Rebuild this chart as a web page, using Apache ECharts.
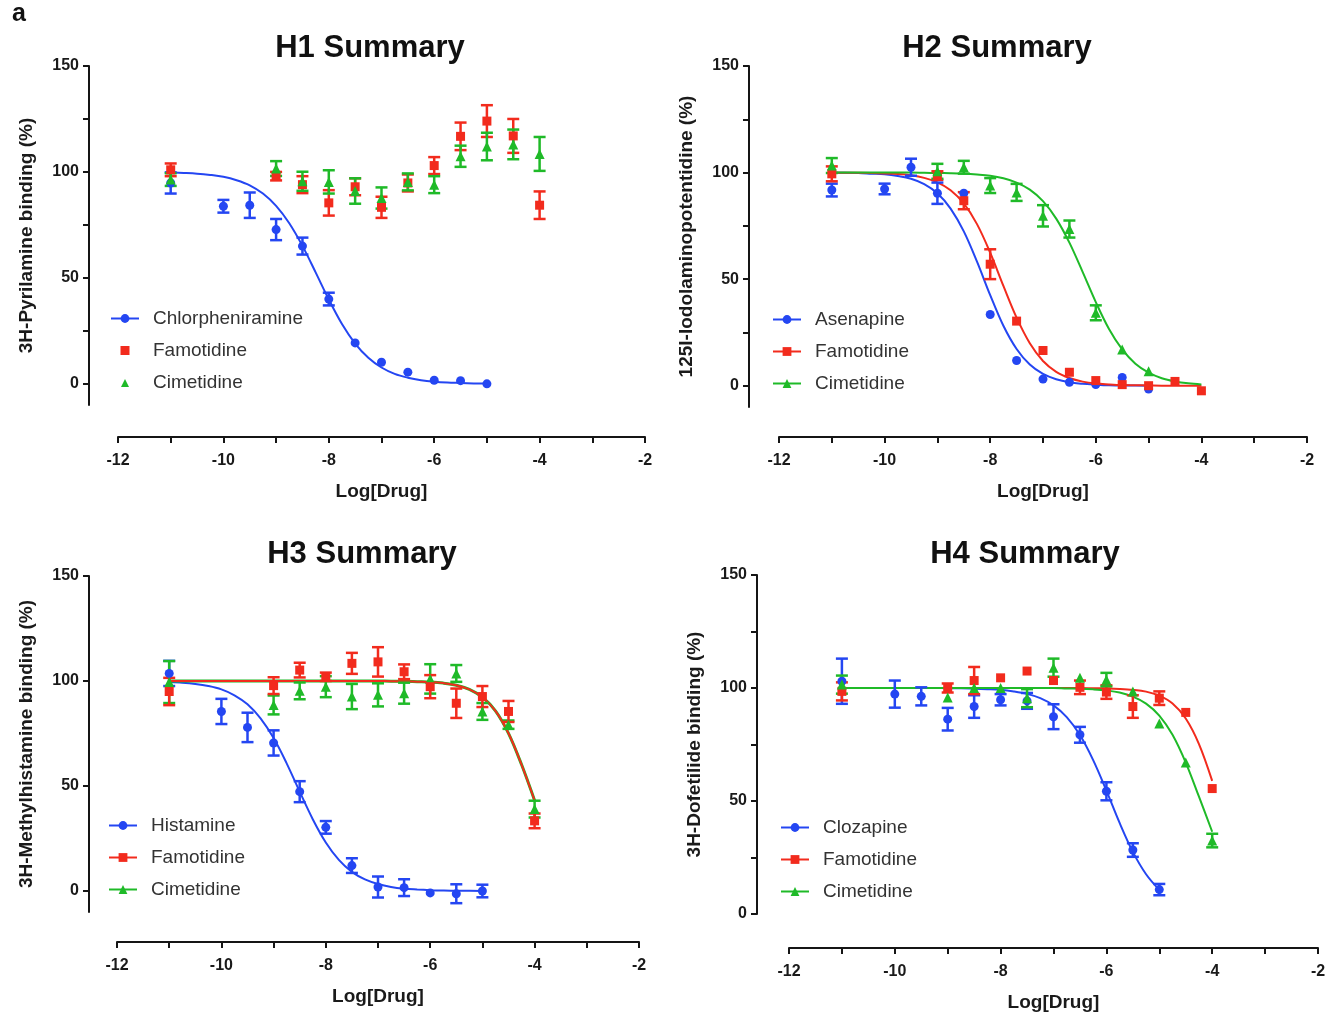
<!DOCTYPE html>
<html>
<head>
<meta charset="utf-8">
<script src="https://cdn.jsdelivr.net/npm/echarts@6.0.0/dist/echarts.min.js"></script>
<style>
  html, body { margin: 0; padding: 0; background: #fff; }
  .panel { position: absolute; left: 0; top: 0; width: 1340px; height: 1015px; }
</style>
</head>
<body>
<div id="h1" class="panel"></div>
<div id="h2" class="panel"></div>
<div id="h3" class="panel"></div>
<div id="h4" class="panel"></div>
<script>
// ---- axis ticks ----
const xLabels = [-12, -10, -8, -6, -4, -2]
const yLabels = [0, 50, 100, 150]
const yMinorTicks = [0, 25, 50, 75, 100, 125, 150]

// x grid the fitted curves were read at (log M)
const curveX = [-11, -10.75, -10.5, -10.25, -10, -9.75, -9.5, -9.25, -9, -8.75, -8.5, -8.25, -8, -7.75, -7.5, -7.25, -7, -6.75, -6.5, -6.25, -6, -5.75, -5.5, -5.25, -5, -4.75, -4.5, -4.25, -4]

// ---- H1 ----
const h1ChlorX = [-11, -10, -9.5, -9, -8.5, -8, -7.5, -7, -6.5, -6, -5.5, -5]
const h1Chlor = [94.8, 83.8, 84.3, 72.8, 65, 40, 19.3, 10.2, 5.5, 1.7, 1.5, 0]
const h1ChlorErr = [5, 3, 6, 5, 4, 3, 0, 0, 0, 0, 0, 0]
const h1ChlorCurve = [99.7, 99.5, 99.2, 98.6, 97.7, 96.1, 93.7, 89.8, 84.0, 75.8, 65.1, 52.6, 39.8, 28.2, 19.0, 12.3, 7.7, 4.7, 2.9, 1.7, 1.0, 0.6, 0.4, 0.2, 0.1]
const h1H2X = [-11, -9, -8.5, -8, -7.5, -7, -6.5, -6, -5.5, -5, -4.5, -4]
const h1Famo = [101, 98, 94, 85.4, 93, 83.3, 94.8, 103, 116.8, 124, 117, 84.3]
const h1FamoErr = [3, 2, 4, 6, 4, 5, 4, 4, 6.5, 7.5, 8, 6.5]
const h1Cime = [96.4, 101.6, 95.6, 95.3, 91, 87.7, 95.3, 94, 107.4, 112, 113, 108.5]
const h1CimeErr = [3, 3.5, 4.5, 5.5, 6, 5, 4, 4, 5, 6.5, 7, 8]

// ---- H2 ----
const h2AsenX = [-11, -10, -9.5, -9, -8.5, -8, -7.5, -7, -6.5, -6, -5.5, -5]
const h2Asen = [91.8, 92.3, 102.5, 90.3, 90.3, 33.4, 11.8, 3.1, 1.6, 0.5, 3.9, -1.6]
const h2AsenErr = [3, 2.5, 4, 5, 0, 0, 0, 0, 0, 0, 0, 0]
const h2AsenCurve = [99.9, 99.9, 99.8, 99.5, 99.2, 98.4, 97.1, 94.6, 90.3, 83.1, 72.4, 58.2, 42.5, 28.1, 17.2, 9.9, 5.5, 3.0, 1.6, 0.9, 0.5, 0.2, 0.1, 0.1, 0.0]
const h2FamoX = [-11, -9, -8.5, -8, -7.5, -7, -6.5, -6, -5.5, -5, -4.5, -4]
const h2Famo = [99.4, 98.6, 86.8, 57, 30.3, 16.5, 6.3, 2.4, 0.5, 0, 2, -2.4]
const h2FamoErr = [3.5, 2, 4, 7, 0, 0, 0, 0, 0, 0, 0, 0]
const h2FamoCurve = [100, 99.9, 99.9, 99.8, 99.6, 99.3, 98.7, 97.5, 95.4, 91.7, 85.5, 75.8, 62.4, 46.8, 31.9, 19.9, 11.6, 6.5, 3.6, 1.9, 1.0, 0.6, 0.3, 0.2, 0.1, 0, 0, 0, 0]
const h2CimeX = [-11, -9, -8.5, -8, -7.5, -7, -6.5, -6, -5.5, -5]
const h2Cime = [103.3, 100.6, 102.5, 93.9, 90.7, 79.7, 73.5, 34.2, 17, 6.8]
const h2CimeErr = [3.5, 3.5, 3, 3.5, 4, 5, 4, 3.5, 0, 0]
const h2CimeCurve = [100, 100, 100, 100, 100, 100, 100, 99.9, 99.8, 99.7, 99.5, 99.1, 98.5, 97.3, 95.3, 92.0, 86.6, 78.4, 67.1, 53.4, 39.2, 26.6, 17.0, 10.3, 6.1, 3.5, 2.0, 1.1, 0.6]

// ---- H3 ----
const h3HistX = [-11, -10, -9.5, -9, -8.5, -8, -7.5, -7, -6.5, -6, -5.5, -5]
const h3Hist = [103.6, 85.5, 77.9, 70.5, 47.3, 30.3, 12.1, 1.9, 1.6, -0.9, -1.3, 0]
const h3HistErr = [6, 6, 7, 6, 5, 3, 3.5, 5, 4, 0, 4.5, 3]
const h3HistCurve = [99.5, 99.2, 98.6, 97.6, 96.0, 93.2, 88.9, 82.2, 72.8, 60.8, 47.3, 34.2, 23.1, 14.8, 9.1, 5.5, 3.3, 1.9, 1.1, 0.7, 0.4, 0.2, 0.1, 0.1, 0.0]
const h3H2X = [-11, -9, -8.5, -8, -7.5, -7, -6.5, -6, -5.5, -5, -4.5, -4]
const h3Famo = [95, 97.8, 105.2, 102, 108.4, 109.1, 104.4, 97.3, 89.4, 92.6, 85.5, 33.4]
const h3FamoErr = [6.5, 4, 3.5, 2, 5, 7, 3.5, 5.5, 7, 5, 5, 3.5]
const h3Cime = [99.5, 88.6, 95.3, 97.3, 92.6, 93.4, 94.2, 101, 103.6, 85.5, 79.2, 39]
const h3CimeErr = [10, 4.5, 4, 5, 6, 5.5, 5, 7, 4, 4, 2, 4]
const h3H2Curve = [100, 100, 100, 100, 100, 100, 100, 100, 100, 100, 100, 100, 100, 100, 100, 100, 100, 99.9, 99.9, 99.7, 99.5, 99.0, 98.0, 96.0, 92.3, 85.8, 75.1, 60.2, 43.1]

// ---- H4 ----
const h4ClozX = [-11, -10, -9.5, -9, -8.5, -8, -7.5, -7, -6.5, -6, -5.5, -5]
const h4Cloz = [103, 97.3, 96.3, 86.2, 91.8, 94.8, 94.3, 87.3, 79.3, 54.3, 28.3, 10.8]
const h4ClozErr = [10, 6, 4, 5, 5, 2.5, 3.5, 5.5, 3.5, 4, 3, 2.5]
const h4ClozCurve = [100, 100, 100, 100, 100, 100, 100, 100, 99.9, 99.9, 99.7, 99.5, 99.2, 98.5, 97.4, 95.5, 92.3, 87.1, 79.2, 68.1, 54.6, 40.3, 27.5, 17.6, 10.7]
const h4H2X = [-11, -9, -8.5, -8, -7.5, -7, -6.5, -6, -5.5, -5, -4.5, -4]
const h4Famo = [98.5, 100, 103.3, 104.5, 107.5, 103.3, 100.3, 98.2, 91.8, 95.5, 89.2, 55.5]
const h4FamoErr = [4, 2, 6, 0, 0, 0, 3, 3, 5, 3, 0, 0]
const h4FamoCurve = [100, 100, 100, 100, 100, 100, 100, 100, 100, 100, 100, 100, 100, 100, 100, 100, 100, 100, 100, 99.9, 99.8, 99.6, 99.2, 98.4, 96.6, 93.1, 86.5, 75.2, 58.9]
const h4Cime = [101.5, 95.8, 100, 100, 95.5, 109, 104.5, 103.7, 98.5, 84.3, 67, 32.5]
const h4CimeErr = [4, 0, 0, 0, 4, 4, 0, 3, 0, 0, 0, 3]
const h4CimeCurve = [100, 100, 100, 100, 100, 100, 100, 100, 100, 100, 100, 100, 100, 100, 100, 100, 100, 99.8, 99.7, 99.4, 98.9, 98.0, 96.2, 93.1, 87.8, 79.3, 67.0, 51.9, 36.4]

const BLUE = '#2446f2'
const RED = '#f22b1d'
const GREEN = '#1fba28'
const FONT = 'Liberation Sans, Arial, sans-serif'

// legend icons for marker-only series: a small mark centred in the 28x11 legend box
const SQUARE_ICON = 'path://M0,0M28,11M9.5,1h9v9h-9z'
const TRIANGLE_ICON = 'path://M0,0M28,11M14,2L18,10L10,10Z'

function errorBar(color) {
  return function (params, api) {
    let x = api.value(0), y = api.value(1), e = api.value(2)
    if (!e) return
    let hi = api.coord([x, y + e])
    let lo = api.coord([x, y - e])
    let w = 6
    let style = { stroke: color, lineWidth: 2.5 }
    return {
      type: 'group',
      children: [
        { type: 'line', shape: { x1: hi[0], y1: hi[1], x2: lo[0], y2: lo[1] }, style: style },
        { type: 'line', shape: { x1: hi[0] - w, y1: hi[1], x2: hi[0] + w, y2: hi[1] }, style: style },
        { type: 'line', shape: { x1: lo[0] - w, y1: lo[1], x2: lo[0] + w, y2: lo[1] }, style: style }
      ]
    }
  }
}

function drawPanel(id, p) {
  let myChart = echarts.init(document.getElementById(id))
  let series = []
  p.drugs.forEach(d => {
    if (d.curve) {
      series.push({
        name: d.name,
        type: 'line',
        data: d.curve.map((v, i) => [curveX[i], v]),
        smooth: 0.35,
        showSymbol: false,
        symbol: d.symbol,
        color: d.color,
        lineStyle: { width: d.lineWidth || 2, color: d.color },
        silent: true,
        z: 2
      })
    }
    series.push({
      name: d.name + ' SEM',
      type: 'custom',
      renderItem: errorBar(d.color),
      data: d.x.map((x, i) => [x, d.y[i], d.err[i]]),
      encode: { x: 0, y: 1 },
      z: 3
    })
    series.push({
      name: d.name,
      type: 'scatter',
      data: d.x.map((x, i) => [x, d.y[i]]),
      symbol: d.symbol,
      symbolSize: d.symbol === 'triangle' ? 10 : 9,
      color: d.color,
      itemStyle: { color: d.color, opacity: 1 },
      z: 4
    })
  })

  let titles = [{
    text: p.title,
    left: p.titleX,
    top: p.titleY,
    textAlign: 'center',
    padding: 0,
    textStyle: { fontFamily: FONT, fontSize: 31, fontWeight: 'bold', color: '#111' }
  }]
  if (p.letter) {
    titles.push({
      text: p.letter, left: 12, top: 2, padding: 0,
      textStyle: { fontFamily: FONT, fontSize: 25, fontWeight: 'bold', color: '#111' }
    })
  }

  let option = {
    animation: false,
    title: titles,
    grid: { left: p.grid[0], top: p.grid[1], width: p.grid[2], height: p.grid[3] },
    legend: {
      orient: 'vertical',
      left: p.legend[0],
      top: p.legend[1],
      padding: 0,
      itemWidth: 28,
      itemHeight: 11,
      itemGap: 13,
      textStyle: { fontFamily: FONT, fontSize: 19, color: '#333', padding: [0, 0, 0, 9] },
      data: p.legendNames.map(n => (p.iconOnly && p.iconOnly[n]) ? { name: n, icon: p.iconOnly[n] } : n)
    },
    xAxis: {
      type: 'value',
      min: -12,
      max: -2,
      interval: 1,
      offset: p.xOffset,
      axisLine: { onZero: false, lineStyle: { color: '#151515', width: 2 } },
      axisTick: { show: true, length: 6, lineStyle: { color: '#151515', width: 2 } },
      axisLabel: { customValues: xLabels, margin: 16, fontFamily: FONT, fontSize: 16, fontWeight: 'bold', color: '#1a1a1a' },
      splitLine: { show: false },
      name: 'Log[Drug]',
      nameLocation: 'middle',
      nameGap: 45,
      nameTextStyle: { fontFamily: FONT, fontSize: 19, fontWeight: 'bold', color: '#1a1a1a' }
    },
    yAxis: {
      type: 'value',
      min: p.yMin,
      max: 150,
      offset: p.yOffset,
      axisLine: { show: true, onZero: false, lineStyle: { color: '#151515', width: 2 } },
      axisTick: { show: true, length: 6, customValues: p.yTicks, lineStyle: { color: '#151515', width: 2 } },
      axisLabel: { customValues: yLabels, margin: 10, fontFamily: FONT, fontSize: 16, fontWeight: 'bold', color: '#1a1a1a' },
      splitLine: { show: false },
      name: p.yName,
      nameLocation: 'middle',
      nameGap: 53,
      nameTextStyle: { fontFamily: FONT, fontSize: 19, fontWeight: 'bold', color: '#1a1a1a' }
    },
    series: series
  }
  myChart.setOption(option)
}

drawPanel('h1', {
  title: 'H1 Summary', titleX: 370, titleY: 33, letter: 'a',
  grid: [118, 66, 527, 339], xOffset: 32, yOffset: 29, yMin: -10, yTicks: yMinorTicks,
  yName: '3H-Pyrilamine binding (%)',
  legend: [110, 309],
  legendNames: ['Chlorpheniramine', 'Famotidine', 'Cimetidine'],
  iconOnly: { Famotidine: SQUARE_ICON, Cimetidine: TRIANGLE_ICON },
  drugs: [
    { name: 'Chlorpheniramine', x: h1ChlorX, y: h1Chlor, err: h1ChlorErr, curve: h1ChlorCurve, symbol: 'circle', color: BLUE },
    { name: 'Famotidine', x: h1H2X, y: h1Famo, err: h1FamoErr, symbol: 'rect', color: RED },
    { name: 'Cimetidine', x: h1H2X, y: h1Cime, err: h1CimeErr, symbol: 'triangle', color: GREEN }
  ]
})

drawPanel('h2', {
  title: 'H2 Summary', titleX: 997, titleY: 33,
  grid: [779, 66, 528, 341], xOffset: 30, yOffset: 30, yMin: -10, yTicks: yMinorTicks,
  yName: '125I-Iodolaminopotentidine (%)',
  legend: [772, 310],
  legendNames: ['Asenapine', 'Famotidine', 'Cimetidine'],
  drugs: [
    { name: 'Asenapine', x: h2AsenX, y: h2Asen, err: h2AsenErr, curve: h2AsenCurve, symbol: 'circle', color: BLUE },
    { name: 'Famotidine', x: h2FamoX, y: h2Famo, err: h2FamoErr, curve: h2FamoCurve, symbol: 'rect', color: RED },
    { name: 'Cimetidine', x: h2CimeX, y: h2Cime, err: h2CimeErr, curve: h2CimeCurve, symbol: 'triangle', color: GREEN }
  ]
})

drawPanel('h3', {
  title: 'H3 Summary', titleX: 362, titleY: 539,
  grid: [117, 576, 522, 336], xOffset: 30, yOffset: 28, yMin: -10, yTicks: yLabels,
  yName: '3H-Methylhistamine binding (%)',
  legend: [108, 816],
  legendNames: ['Histamine', 'Famotidine', 'Cimetidine'],
  drugs: [
    { name: 'Histamine', x: h3HistX, y: h3Hist, err: h3HistErr, curve: h3HistCurve, symbol: 'circle', color: BLUE },
    { name: 'Cimetidine', x: h3H2X, y: h3Cime, err: h3CimeErr, curve: h3H2Curve, symbol: 'triangle', color: GREEN, lineWidth: 3 },
    { name: 'Famotidine', x: h3H2X, y: h3Famo, err: h3FamoErr, curve: h3H2Curve, symbol: 'rect', color: RED }
  ]
})

drawPanel('h4', {
  title: 'H4 Summary', titleX: 1025, titleY: 539,
  grid: [789, 575, 529, 339], xOffset: 34, yOffset: 32, yMin: 0, yTicks: yMinorTicks,
  yName: '3H-Dofetilide binding (%)',
  legend: [780, 818],
  legendNames: ['Clozapine', 'Famotidine', 'Cimetidine'],
  drugs: [
    { name: 'Clozapine', x: h4ClozX, y: h4Cloz, err: h4ClozErr, curve: h4ClozCurve, symbol: 'circle', color: BLUE },
    { name: 'Famotidine', x: h4H2X, y: h4Famo, err: h4FamoErr, curve: h4FamoCurve, symbol: 'rect', color: RED },
    { name: 'Cimetidine', x: h4H2X, y: h4Cime, err: h4CimeErr, curve: h4CimeCurve, symbol: 'triangle', color: GREEN }
  ]
})
</script>
</body>
</html>
